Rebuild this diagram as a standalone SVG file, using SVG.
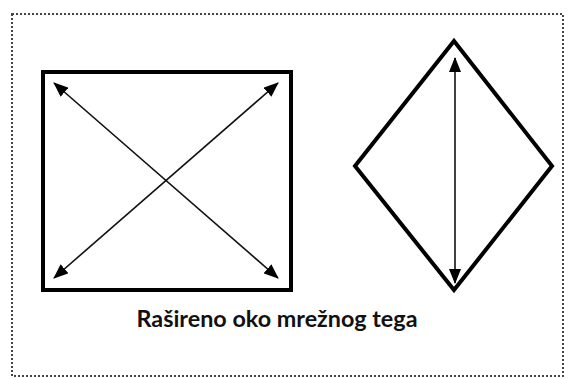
<svg xmlns="http://www.w3.org/2000/svg" width="568" height="379" viewBox="0 0 568 379">
<style>
.frame{fill:none;stroke:#444;stroke-width:2;stroke-dasharray:2 2}
.shape{fill:none;stroke:#000;stroke-width:4}
.arr{stroke:#111;stroke-width:1.6;fill:none;marker-start:url(#ah);marker-end:url(#ah)}
.lbl{font-family:Lato,"Open Sans","Liberation Sans",sans-serif;font-weight:700;font-size:23px;fill:#111}
</style>
<defs>
<marker id="ah" viewBox="0 0 15 12" refX="14" refY="6" markerWidth="15" markerHeight="12" markerUnits="userSpaceOnUse" orient="auto-start-reverse">
<path d="M0,0 L15,6 L0,12 Z" fill="#000"/>
</marker>
</defs>
<rect width="568" height="379" fill="#fff"/>
<rect class="frame" x="12" y="14" width="551" height="362"/>
<g id="square">
<rect class="shape" x="43" y="72" width="248" height="218"/>
</g>
<g id="diamond">
<polygon class="shape" points="454,41 552,166 454,290 355,166" stroke-linejoin="miter"/>
</g>
<g id="connectors">
<line class="arr" x1="54" y1="83" x2="278" y2="278"/>
<line class="arr" x1="278" y1="83" x2="54" y2="278"/>
<line class="arr" x1="455" y1="58" x2="455" y2="283"/>
</g>
<g id="label">
<text class="lbl" x="277" y="327" text-anchor="middle" textLength="281" lengthAdjust="spacingAndGlyphs">Rašireno oko mrežnog tega</text>
</g>
</svg>
